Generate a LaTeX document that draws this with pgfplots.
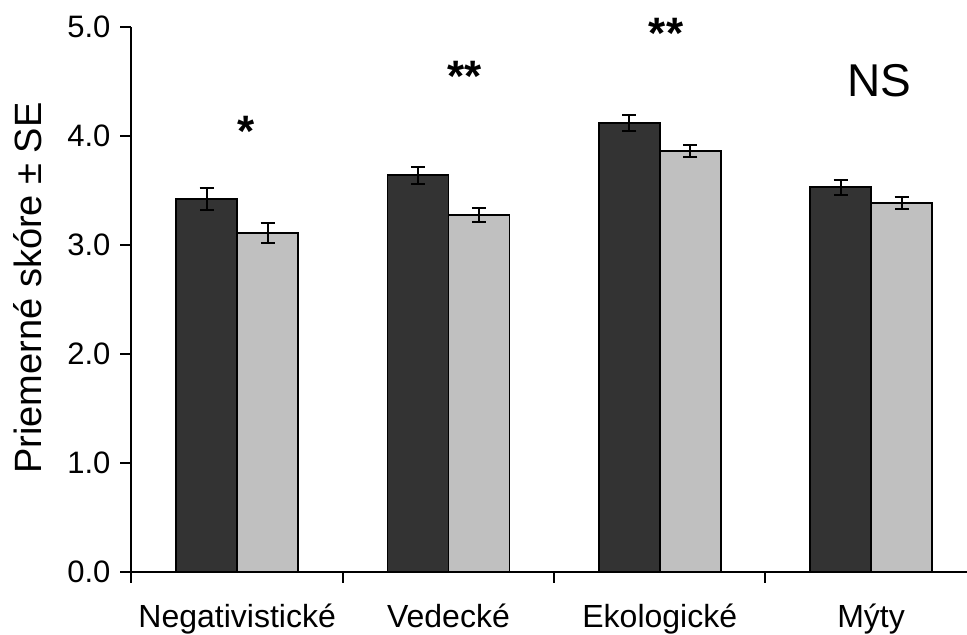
\documentclass[border=0pt]{standalone}
\usepackage{pgfplots}
\pgfplotsset{compat=1.18}
\usepackage{fontspec}
\setmainfont{Liberation Sans}
\definecolor{darkbar}{HTML}{333333}
\definecolor{lightbar}{HTML}{C0C0C0}
\begin{document}
\begin{tikzpicture}
\begin{axis}[
  scale only axis, width=417.75pt, height=272.5pt,
  xmin=-0.5, xmax=3.454, ymin=0, ymax=5,
  axis x line=bottom, axis y line=left,
  axis line style={-, line width=1pt, black},
  ybar=0pt, bar width=30.5pt,
  xtick={0,1,2,3},
  xticklabels={Negativistické,Vedecké,Ekologické,Mýty},
  minor xtick={-0.5,0.5,1.5,2.5},
  ytick={0,1,2,3,4,5},
  tick align=outside,
  major tick length=5.5pt, minor tick length=5.5pt,
  tick style={line width=1pt, black},
  major x tick style={draw=none},
  /pgf/number format/assume math mode=true,
  ticklabel style={font=\fontsize{15.5}{19}\selectfont},
  yticklabel style={xshift=-1.5pt, /pgf/number format/.cd, fixed, fixed zerofill, precision=1},
  xticklabel style={font=\fontsize{16}{19}\selectfont, yshift=-7pt},
  ylabel={Priemerné skóre ± SE},
  every axis y label/.style={at={(axis description cs:-0.124,0.521)}, rotate=90, anchor=center, font=\fontsize{19}{23}\selectfont},
  clip=false,
  error bars/error bar style={line width=1pt, black},
  error bars/error mark options={rotate=90, mark size=3.5pt, line width=1pt, black},
]
\addplot[fill=darkbar, draw=black, line width=0.9pt,
  error bars/.cd, y dir=both, y explicit]
  coordinates {(0,3.42) +- (0,0.10) (1,3.64) +- (0,0.08) (2,4.12) +- (0,0.07) (3,3.53) +- (0,0.07)};
\addplot[fill=lightbar, draw=black, line width=0.9pt,
  error bars/.cd, y dir=both, y explicit]
  coordinates {(0,3.11) +- (0,0.09) (1,3.275) +- (0,0.06) (2,3.86) +- (0,0.055) (3,3.385) +- (0,0.055)};
\node[font=\fontsize{22}{26}\selectfont\bfseries] at (axis cs:0.04,4.04) {*};
\node[font=\fontsize{22}{26}\selectfont\bfseries] at (axis cs:1.078,4.546) {**};
\node[font=\fontsize{22}{26}\selectfont\bfseries] at (axis cs:2.03,4.94) {**};
\node[font=\fontsize{23}{27}\selectfont] at (axis cs:3.04,4.51) {NS};
\end{axis}
\pgfresetboundingbox
\path[use as bounding box] (-65.75pt,-31.5pt) rectangle (417.75pt,286pt);
\end{tikzpicture}
\end{document}
